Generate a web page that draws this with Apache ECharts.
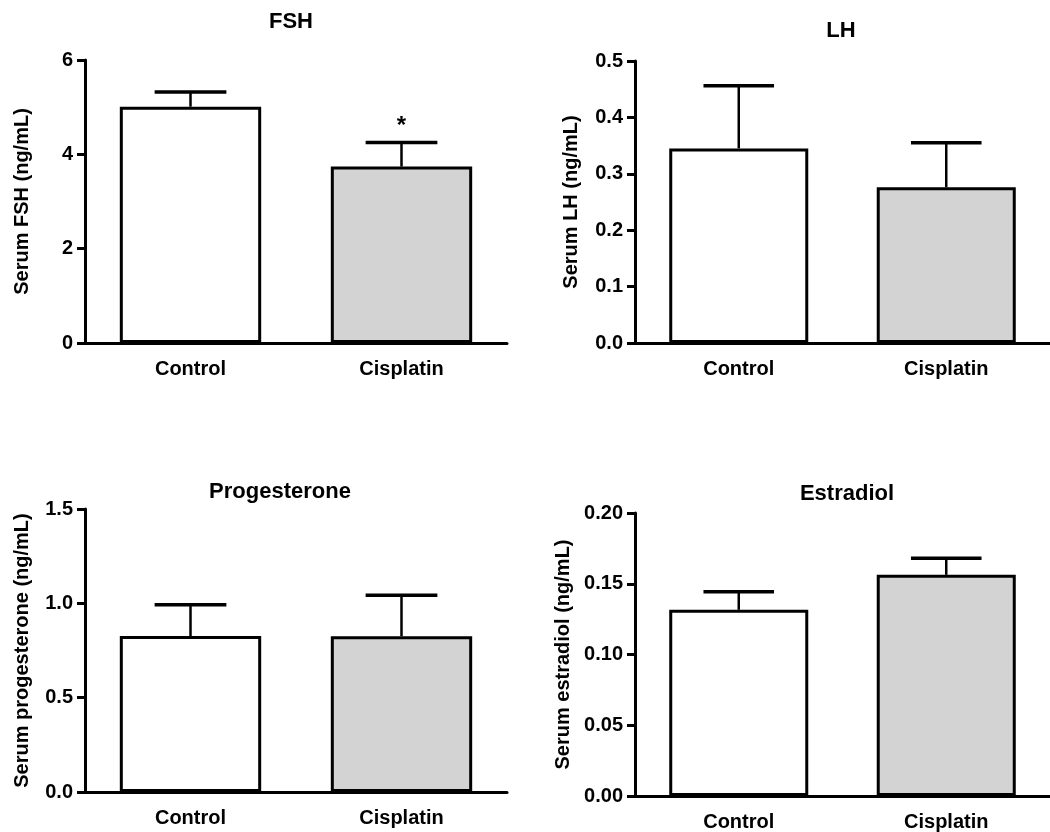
<!DOCTYPE html>
<html>
<head>
<meta charset="utf-8">
<script src="https://cdn.jsdelivr.net/npm/echarts@6/dist/echarts.min.js"></script>
<style>html,body{margin:0;padding:0;background:#fff;}#c{width:1050px;height:832px;}</style>
</head>
<body>
<div id="c"></div>
<script>
// ---- data ----
var categories = ['Control', 'Cisplatin'];
var barColors = ['#ffffff', '#d3d3d3'];

var titles = ['FSH', 'LH', 'Progesterone', 'Estradiol'];
var yNames = ['Serum FSH (ng/mL)', 'Serum LH (ng/mL)', 'Serum progesterone (ng/mL)', 'Serum estradiol (ng/mL)'];

var fshMean = [5.01, 3.74];
var fshSem = [0.31, 0.51];
var fshSig = ['', '*'];
var fshTicks = [0, 2, 4, 6];

var lhMean = [0.345, 0.276];
var lhSem = [0.111, 0.079];
var lhSig = ['', ''];
var lhTicks = [0, 0.1, 0.2, 0.3, 0.4, 0.5];

var progMean = [0.827, 0.825];
var progSem = [0.165, 0.218];
var progSig = ['', ''];
var progTicks = [0, 0.5, 1.0, 1.5];

var estMean = [0.1316, 0.1563];
var estSem = [0.0127, 0.0118];
var estSig = ['', ''];
var estTicks = [0, 0.05, 0.10, 0.15, 0.20];

var tickDecimals = [0, 1, 1, 2];

// ---- layout ----
var FONT = '"Liberation Sans", Arial, sans-serif';
var panels = [
  {mean: fshMean, sem: fshSem, sig: fshSig, ticks: fshTicks, grid: {left: 85, top: 60, width: 422, height: 283}, title: {left: 286, top: 6}, nameGap: 53},
  {mean: lhMean, sem: lhSem, sig: lhSig, ticks: lhTicks, grid: {left: 635, top: 61, width: 421, height: 282}, title: {left: 836, top: 15}, nameGap: 54},
  {mean: progMean, sem: progSem, sig: progSig, ticks: progTicks, grid: {left: 85, top: 509, width: 422, height: 283}, title: {left: 275, top: 476}, nameGap: 53},
  {mean: estMean, sem: estSem, sig: estSig, ticks: estTicks, grid: {left: 635, top: 513, width: 421, height: 283}, title: {left: 842, top: 478}, nameGap: 62}
];

var option = {
  animation: false,
  backgroundColor: '#fff',
  textStyle: {fontFamily: FONT},
  title: [], grid: [], xAxis: [], yAxis: [], series: []
};

panels.forEach(function (p, i) {
  option.title.push({
    text: titles[i], left: p.title.left, top: p.title.top, textAlign: 'center',
    textStyle: {fontFamily: FONT, fontWeight: 'bold', fontSize: 22, color: '#000'}
  });
  option.grid.push(Object.assign({containLabel: false}, p.grid));
  option.xAxis.push({
    type: 'category', gridIndex: i, data: categories,
    axisLine: {lineStyle: {color: '#000', width: 3}},
    axisTick: {alignWithLabel: true, length: 8, lineStyle: {color: '#000', width: 3}},
    axisLabel: {color: '#000', fontFamily: FONT, fontWeight: 'bold', fontSize: 20, margin: 16},
    splitLine: {show: false}
  });
  var t = p.ticks;
  var dec = tickDecimals[i];
  option.yAxis.push({
    type: 'value', gridIndex: i,
    min: t[0], max: t[t.length - 1], interval: t[1] - t[0],
    name: yNames[i], nameLocation: 'middle', nameGap: p.nameGap,
    nameTextStyle: {color: '#000', fontFamily: FONT, fontWeight: 'bold', fontSize: 20},
    axisLine: {show: true, lineStyle: {color: '#000', width: 3}},
    axisTick: {show: true, length: 8, lineStyle: {color: '#000', width: 3}},
    axisLabel: {color: '#000', fontFamily: FONT, fontWeight: 'bold', fontSize: 20, margin: 12,
      formatter: function (v) { return Number(v).toFixed(dec); }},
    splitLine: {show: false}
  });
  option.series.push({
    type: 'bar', xAxisIndex: i, yAxisIndex: i, barWidth: '67%', z: 2,
    data: p.mean.map(function (v, k) {
      return {value: v, itemStyle: {color: barColors[k], borderColor: '#000', borderWidth: 3}};
    })
  });
  option.series.push({
    type: 'custom', xAxisIndex: i, yAxisIndex: i, z: 3,
    data: p.mean.map(function (v, k) { return [k, v, p.sem[k], p.sig[k]]; }),
    renderItem: function (params, api) {
      var x = api.value(0), m = api.value(1), e = api.value(2);
      var base = api.coord([x, m]);
      var top = api.coord([x, m + e]);
      var band = api.size([1, 0])[0];
      var hw = band * 0.17;
      var children = [
        {type: 'line', shape: {x1: base[0], y1: base[1], x2: top[0], y2: top[1]}, style: {stroke: '#000', lineWidth: 2.5}},
        {type: 'line', shape: {x1: top[0] - hw, y1: top[1], x2: top[0] + hw, y2: top[1]}, style: {stroke: '#000', lineWidth: 3.5}}
      ];
      var s = p.sig[params.dataIndex];
      if (s) {
        children.push({type: 'text', style: {text: s, x: top[0], y: top[1] - 4, align: 'center', verticalAlign: 'bottom',
          fontFamily: FONT, fontWeight: 'bold', fontSize: 24, fill: '#000'}});
      }
      return {type: 'group', children: children};
    }
  });
});

var chart = echarts.init(document.getElementById('c'));
chart.setOption(option);
</script>
</body>
</html>
